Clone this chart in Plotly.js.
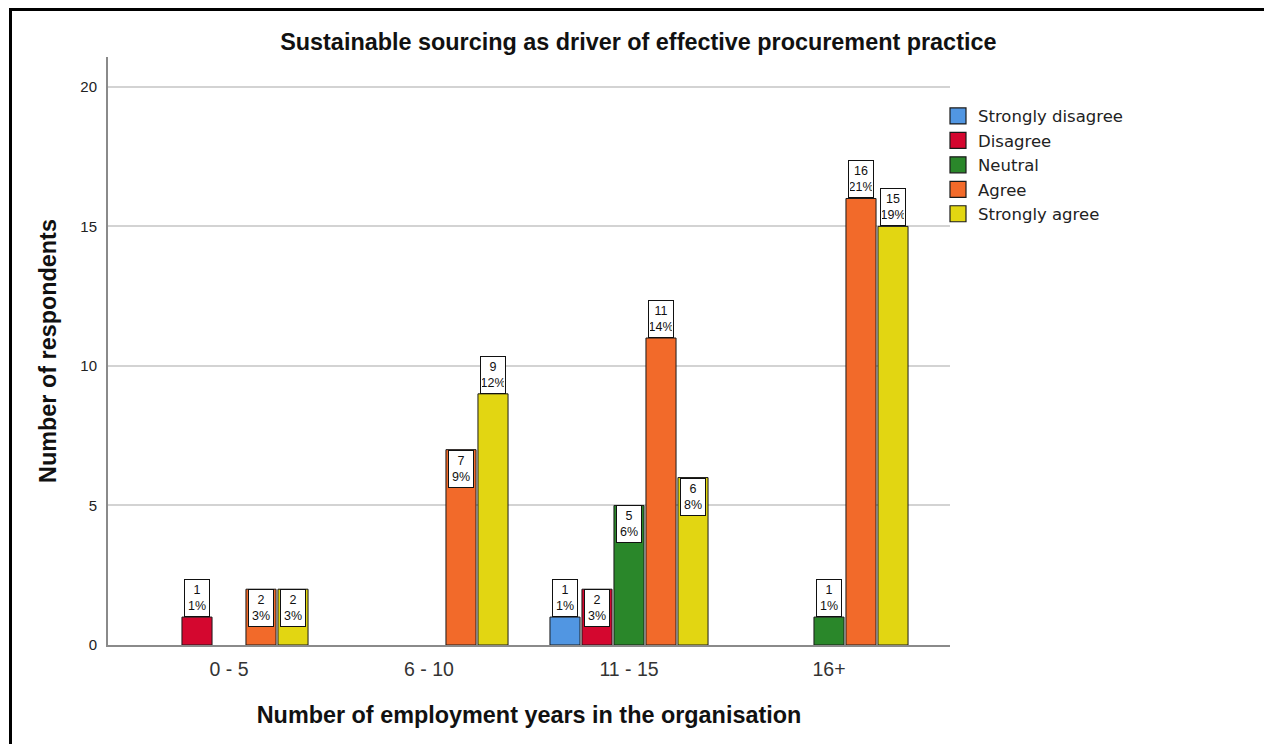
<!DOCTYPE html>
<html>
<head>
<meta charset="utf-8">
<script src="https://cdn.plot.ly/plotly-3.0.1.min.js"></script>
<style>
  html, body { margin: 0; padding: 0; background: #fff; }
  #wrap { position: relative; width: 1264px; height: 744px; overflow: hidden; }
  #chart { position: absolute; left: 0; top: 0; width: 1264px; height: 744px; }
  #frame { position: absolute; left: 9px; top: 8px; width: 1300px; height: 800px;
           border-left: 3px solid #000; border-top: 3px solid #000; pointer-events: none; }
</style>
</head>
<body>
<div id="wrap">
  <div id="chart"></div>
  <div id="frame"></div>
</div>
<script>
// ---- Data ----
const categories = ["0 - 5", "6 - 10", "11 - 15", "16+"];
const seriesNames = ["Strongly disagree", "Disagree", "Neutral", "Agree", "Strongly agree"];
const stronglyDisagree = [0, 0, 1, 0];
const disagree         = [1, 0, 2, 0];
const neutral          = [0, 0, 5, 1];
const agree            = [2, 7, 11, 16];
const stronglyAgree    = [2, 9, 6, 15];
// label placement used by the original chart: true = box drawn inside bar top
const labelInside = [
  [false, false, false, false],
  [false, false, true, false],
  [false, false, true, false],
  [true, true, false, false],
  [true, false, true, false]
];

const seriesValues = [stronglyDisagree, disagree, neutral, agree, stronglyAgree];
const colors = ["#5196e2", "#d4072f", "#2a872a", "#f26a2a", "#e2d612"];

const total = seriesValues.flat().reduce((a, b) => a + b, 0);

const BARGAP = 0.2;
const nSeries = seriesValues.length;
const slot = (1 - BARGAP) / nSeries;

const barTraces = seriesValues.map((vals, i) => ({
  type: "bar",
  name: seriesNames[i],
  x: categories,
  y: vals.map(v => v === 0 ? null : v),
  marker: { color: colors[i], line: { color: "#1a1a1a", width: 1 } },
  showlegend: false,
  hoverinfo: "skip"
}));

// legend entries (square swatches like the original)
const legendTraces = seriesNames.map((name, i) => ({
  type: "scatter",
  mode: "markers",
  name: name,
  x: [null], y: [null],
  marker: { symbol: "square", size: 16, color: colors[i], line: { color: "#1a1a1a", width: 1.2 } },
  showlegend: true,
  hoverinfo: "skip"
}));

const annotations = [];
seriesValues.forEach((vals, i) => {
  vals.forEach((v, j) => {
    if (!v) return;
    const pct = Math.round(v / total * 100);
    annotations.push({
      xref: "x", yref: "y",
      x: j + (i - (nSeries - 1) / 2) * slot,
      y: v,
      text: v + "<br>" + pct + "%",
      showarrow: false,
      xanchor: "center",
      yanchor: labelInside[i][j] ? "top" : "bottom",
      bgcolor: "#fff",
      bordercolor: "#111",
      borderwidth: 1,
      borderpad: 1,
      width: 22,
      height: 34,
      font: { family: "Liberation Sans, Arial, sans-serif", size: 12.5, color: "#111" }
    });
  });
});

const layout = {
  width: 1264, height: 744,
  paper_bgcolor: "#fff", plot_bgcolor: "#fff",
  margin: { l: 108, r: 314, t: 57, b: 99, pad: 0 },
  barmode: "group",
  bargap: BARGAP,
  bargroupgap: 0.06,
  font: { family: "Liberation Sans, Arial, sans-serif", color: "#222" },
  title: {
    text: "<b>Sustainable sourcing as driver of effective procurement practice</b>",
    font: { size: 23.4, color: "#111" },
    xref: "container", x: 0.505, xanchor: "center",
    yref: "container", y: 1 - 42 / 744, yanchor: "middle"
  },
  xaxis: {
    type: "category",
    range: [-0.605, 3.605],
    showline: true, linecolor: "#8a8a8a", linewidth: 2,
    ticks: "", showgrid: false,
    tickfont: { size: 19.5, color: "#333" },
    ticklabelstandoff: 6,
    title: { text: "<b>Number of employment years in the organisation</b>", font: { size: 23.4, color: "#111" }, standoff: 27 }
  },
  yaxis: {
    range: [0, 21.07],
    tickvals: [0, 5, 10, 15, 20],
    showline: true, linecolor: "#8a8a8a", linewidth: 2,
    showgrid: true, gridcolor: "#d3d3d3", gridwidth: 2,
    zeroline: false,
    ticks: "",
    tickfont: { size: 15, color: "#222" },
    ticklabelstandoff: 6,
    title: { text: "<b>Number of respondents</b>", font: { size: 23.4, color: "#111" }, standoff: 17 }
  },
  legend: {
    x: (938 - 108) / 842, xanchor: "left",
    y: 0.929, yanchor: "top",
    font: { family: "DejaVu Sans, Verdana, sans-serif", size: 16.5, color: "#222" },
    bgcolor: "rgba(0,0,0,0)",
    tracegroupgap: 0,
    itemwidth: 30,
    itemsizing: "trace"
  },
  showlegend: true,
  annotations: annotations
};

Plotly.newPlot("chart", barTraces.concat(legendTraces), layout, { displayModeBar: false, staticPlot: true });
</script>
</body>
</html>
